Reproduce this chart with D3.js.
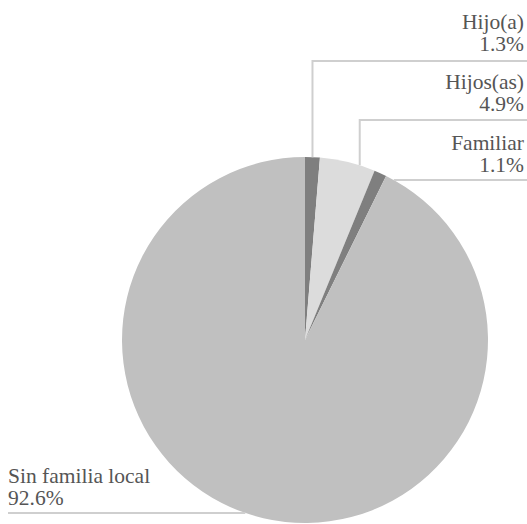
<!DOCTYPE html>
<html>
<head>
<meta charset="utf-8">
<script src="https://cdn.jsdelivr.net/npm/d3@7"></script>
<style>
  html, body { margin: 0; padding: 0; background: #fff; }
  svg { display: block; }
</style>
</head>
<body>
<svg id="s" width="527" height="524"></svg>
<script>
// Household composition shares (percent)
const categories = ["Hijo(a)", "Hijos(as)", "Familiar", "Sin familia local"];
const values = [1.3, 4.9, 1.1, 92.6];
const valueLabels = ["1.3%", "4.9%", "1.1%", "92.6%"];
const colors = ["#7f7f7f", "#dcdcdc", "#7f7f7f", "#c0c0c0"];

const W = 527;
const cx = 305, cy = 340, r = 183;

const svg = d3.select("#s");

const pie = d3.pie().sort(null).value(d => d.value);
const arc = d3.arc().innerRadius(0).outerRadius(r);

const data = categories.map((c, i) => ({ name: c, value: values[i], label: valueLabels[i], color: colors[i] }));
const arcs = pie(data);

// Slices, clockwise from twelve o'clock
const g = svg.append("g").attr("transform", `translate(${cx},${cy})`);
g.selectAll("path")
  .data(arcs)
  .join("path")
  .attr("d", arc)
  .attr("fill", d => d.data.color);

// Label layout: where along each slice the leader attaches, and where its text sits
const layout = [
  { t: 0.5, kind: "up", lineY: 61, textX: 524, base: 29, anchor: "end" },
  { t: 0.72, kind: "up", lineY: 120, textX: 524, base: 89, anchor: "end" },
  { t: 0.5, kind: "right", lineY: 180, textX: 524, base: 150, anchor: "end" },
  { t: 0.5, kind: "left", lineY: 513, textX: 8, base: 483, anchor: "start" }
];

const lineColor = "#cfcfcf";
const textColor = "#555555";

arcs.forEach((a, i) => {
  const L = layout[i];
  const ang = a.startAngle + (a.endAngle - a.startAngle) * L.t;
  let pts;
  if (L.kind === "up") {
    const px = cx + r * Math.sin(ang);
    const py = cy - r * Math.cos(ang);
    pts = [[px, py], [px, L.lineY], [W, L.lineY]];
  } else if (L.kind === "right") {
    const dy = L.lineY - cy;
    const px = cx + Math.sqrt(r * r - dy * dy);
    pts = [[px, L.lineY], [W, L.lineY]];
  } else {
    const dy = L.lineY - cy;
    const px = cx - Math.sqrt(r * r - dy * dy);
    pts = [[px, L.lineY], [L.textX, L.lineY]];
  }
  svg.append("path")
    .attr("d", d3.line()(pts))
    .attr("fill", "none")
    .attr("stroke", lineColor)
    .attr("stroke-width", 2);

  // Two separate lines of text: category name, then its share
  [a.data.name, a.data.label].forEach((s, k) => {
    svg.append("text")
      .style("font-family", '"Liberation Serif"')
      .style("font-size", "21.5px")
      .attr("fill", textColor)
      .attr("text-anchor", L.anchor)
      .attr("x", L.textX)
      .attr("y", L.base + 22 * k)
      .text(s);
  });
});
</script>
</body>
</html>
